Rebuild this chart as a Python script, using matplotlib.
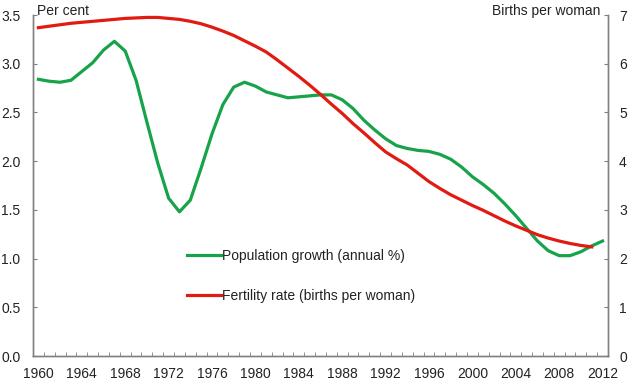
import matplotlib.pyplot as plt
import numpy as np

years = np.arange(1960, 2013)

pop_growth = [
    2.84, 2.82, 2.81, 2.83, 2.92, 3.01, 3.14, 3.23, 3.13, 2.83,
    2.40, 1.98, 1.62, 1.48, 1.60, 1.93, 2.28, 2.58, 2.76, 2.81,
    2.77, 2.71, 2.68, 2.65, 2.66, 2.67, 2.68, 2.68, 2.63, 2.54,
    2.42, 2.32, 2.23, 2.16, 2.13, 2.11, 2.10, 2.07, 2.02, 1.94,
    1.84, 1.76, 1.67, 1.56, 1.44, 1.31, 1.18, 1.08, 1.03, 1.03,
    1.07, 1.13, 1.18,
]

fert_years = np.arange(1960, 2012)
fertility = [
    6.74, 6.77, 6.80, 6.83, 6.85, 6.87, 6.89, 6.91, 6.93, 6.94,
    6.95, 6.95, 6.93, 6.91, 6.87, 6.82, 6.75, 6.67, 6.58, 6.47,
    6.36, 6.24, 6.08, 5.91, 5.74, 5.56, 5.37, 5.17, 4.98, 4.77,
    4.58, 4.38, 4.19, 4.05, 3.92, 3.75, 3.58, 3.44, 3.31, 3.20,
    3.09, 2.99, 2.88, 2.77, 2.67, 2.58, 2.49, 2.42, 2.36, 2.31,
    2.27, 2.24,
]

year_labels = np.arange(1960, 2013, 4)

green = "#17a34a"
red = "#e11a12"
axis_grey = "#808080"
text_col = "#222222"

plt.rcParams.update({
    "font.family": ["Liberation Sans", "DejaVu Sans"],
    "font.size": 10,
})

fig = plt.figure(figsize=(6.3, 3.87), dpi=100)
ax = fig.add_axes([33 / 630, 31 / 387, 575 / 630, 341 / 387])
ax2 = ax.twinx()

l1, = ax.plot(years, pop_growth, color=green, lw=2.3, label="Population growth (annual %)", zorder=3)
l2, = ax2.plot(fert_years, fertility, color=red, lw=2.3, label="Fertility rate (births per woman)", zorder=4)

ax.set_xlim(1959.5, 2012.5)
ax.set_ylim(0, 3.5)
ax2.set_ylim(0, 7)

ax.set_xticks(year_labels)
ax.set_xticks(np.arange(1959.5, 2013, 1), minor=True)
ax.tick_params(axis="x", which="major", length=0, pad=8, labelsize=10, labelcolor=text_col)
ax.tick_params(axis="x", which="minor", direction="in", length=3, color=axis_grey)

ax.set_yticks(np.arange(0, 3.51, 0.5))
ax.set_yticklabels([f"{v:.1f}" for v in np.arange(0, 3.51, 0.5)])
ax.tick_params(axis="y", direction="in", length=3, color=axis_grey, pad=9, labelcolor=text_col)

ax2.set_yticks(np.arange(0, 8, 1))
ax2.tick_params(axis="y", direction="in", length=3, color=axis_grey, pad=8, labelcolor=text_col)

for a in (ax, ax2):
    a.spines["top"].set_visible(False)
    for s in ("left", "right", "bottom"):
        a.spines[s].set_color(axis_grey)
        a.spines[s].set_linewidth(1.0)

fig.text(37 / 630, 1 - 11 / 387, "Per cent", ha="left", va="center", fontsize=10, color=text_col)
fig.text(600 / 630, 1 - 11 / 387, "Births per woman", ha="right", va="center", fontsize=10, color=text_col)

leg = ax.legend(
    handles=[l1, l2],
    loc="center left",
    bbox_to_anchor=(174 / 630, 1 - 276 / 387),
    bbox_transform=fig.transFigure,
    frameon=False,
    handlelength=2.45,
    handletextpad=0.12,
    labelspacing=1.85,
    fontsize=10,
)
for t in leg.get_texts():
    t.set_color(text_col)

fig.savefig("out.png", dpi=100)
